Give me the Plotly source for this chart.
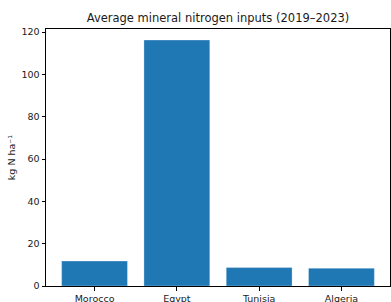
import plotly.graph_objects as go

countries = ["Morocco", "Egypt", "Tunisia", "Algeria"]
n_inputs = [11.8, 116.3, 8.7, 8.4]
y_ticks = [0, 20, 40, 60, 80, 100, 120]

fig = go.Figure(
    go.Bar(
        x=countries,
        y=n_inputs,
        width=0.8,
        marker=dict(color="#1f77b4", line=dict(color="rgba(255,255,255,0.6)", width=0.5)),
    )
)

font = "DejaVu Sans, sans-serif"
fig.update_layout(
    width=391,
    height=302,
    margin=dict(l=46, r=1, t=29, b=16, autoexpand=False),
    paper_bgcolor="white",
    plot_bgcolor="white",
    showlegend=False,
    bargap=0.2,
    font=dict(family=font, size=9.3, color="#1a1a1a"),
    title=dict(
        text="Average mineral nitrogen inputs (2019–2023)",
        x=(46 + 390) / 2 / 391,
        xanchor="center",
        xref="container",
        yref="container",
        y=1 - 18 / 302,
        yanchor="middle",
        automargin=False,
        font=dict(family=font, size=11.5, color="#1a1a1a"),
    ),
    xaxis=dict(
        range=[-0.59, 3.59],
        automargin=False,
        showline=True,
        linecolor="black",
        linewidth=1,
        mirror=True,
        ticks="outside",
        ticklen=3.5,
        tickcolor="black",
        showgrid=False,
        zeroline=False,
        tickfont=dict(family=font, size=9.5, color="#1a1a1a"),
    ),
    yaxis=dict(
        range=[0, 121.5],
        automargin=False,
        tickvals=y_ticks,
        showline=True,
        linecolor="black",
        linewidth=1,
        mirror=True,
        ticks="outside",
        ticklen=3.5,
        tickcolor="black",
        showgrid=False,
        zeroline=False,
        tickfont=dict(family=font, size=9.5, color="#1a1a1a"),
        title=dict(text="kg N ha⁻¹", font=dict(family=font, size=9.5, color="#1a1a1a"), standoff=4),
    ),
)

fig.write_html(
    "out.html",
    config={"displayModeBar": False},
    post_script="document.body.style.margin='0';document.body.style.overflow='hidden';",
)
